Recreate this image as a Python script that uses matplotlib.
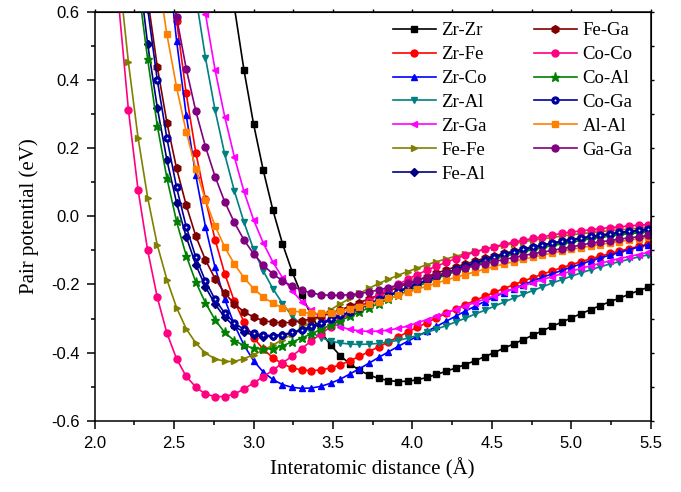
import numpy as np
import matplotlib
matplotlib.use("Agg")
import matplotlib.pyplot as plt
from matplotlib.ticker import MultipleLocator, FormatStrFormatter

plt.rcParams['axes.unicode_minus'] = False
plt.rcParams['font.family'] = 'Liberation Sans'

# distance grid (A) of the tabulated potentials, visible part only
dist = np.linspace(1.0, 7.0, 100)[17:75]

# pair potentials (eV), each list starts at dist[first]
zr_zr = [0.83, 0.615, 0.430, 0.271, 0.136, 0.019, -0.080, -0.162, -0.232, -0.291,
         -0.339, -0.378, -0.409, -0.433, -0.452, -0.466, -0.476, -0.482, -0.485, -0.484,
         -0.480, -0.473, -0.464, -0.455, -0.445, -0.435, -0.424, -0.412, -0.400, -0.387,
         -0.375, -0.362, -0.349, -0.336, -0.323, -0.311, -0.298, -0.286, -0.274, -0.262,
         -0.251, -0.240, -0.229, -0.218, -0.208]
zr_fe = [0.835, 0.575, 0.361, 0.187, 0.050, -0.068, -0.168, -0.249, -0.310, -0.356,
         -0.390, -0.415, -0.433, -0.445, -0.451, -0.453, -0.451, -0.445, -0.436, -0.424,
         -0.411, -0.397, -0.383, -0.369, -0.354, -0.340, -0.326, -0.312, -0.298, -0.285,
         -0.272, -0.259, -0.247, -0.235, -0.223, -0.212, -0.201, -0.190, -0.180, -0.170,
         -0.160, -0.151, -0.142, -0.133, -0.125, -0.117, -0.109, -0.102, -0.095, -0.088, -0.082]
zr_co = [0.780, 0.516, 0.298, 0.120, -0.030, -0.150, -0.243, -0.318, -0.378, -0.424,
         -0.457, -0.479, -0.494, -0.502, -0.505, -0.504, -0.499, -0.490, -0.478, -0.463,
         -0.447, -0.431, -0.414, -0.398, -0.382, -0.367, -0.352, -0.338, -0.323, -0.308,
         -0.293, -0.278, -0.264, -0.250, -0.237, -0.224, -0.212, -0.201, -0.190, -0.179,
         -0.169, -0.159, -0.149, -0.140, -0.131, -0.122, -0.114, -0.106, -0.098, -0.090, -0.083]
zr_al = [0.85, 0.646, 0.466, 0.312, 0.183, 0.075, -0.017, -0.097, -0.160, -0.212,
         -0.256, -0.292, -0.320, -0.341, -0.356, -0.366, -0.372, -0.375, -0.376, -0.375,
         -0.373, -0.369, -0.364, -0.358, -0.350, -0.341, -0.331, -0.321, -0.310, -0.299,
         -0.287, -0.276, -0.264, -0.252, -0.240, -0.229, -0.218, -0.207, -0.196, -0.186,
         -0.176, -0.166, -0.157, -0.148, -0.140, -0.133, -0.126, -0.119, -0.113]
zr_ga = [0.79, 0.595, 0.430, 0.293, 0.175, 0.073, -0.010, -0.078, -0.134, -0.180,
         -0.218, -0.250, -0.276, -0.297, -0.313, -0.324, -0.332, -0.336, -0.338, -0.337,
         -0.334, -0.329, -0.322, -0.313, -0.303, -0.293, -0.283, -0.273, -0.263, -0.253,
         -0.243, -0.233, -0.223, -0.213, -0.204, -0.195, -0.186, -0.177, -0.169, -0.161,
         -0.153, -0.145, -0.138, -0.131, -0.124, -0.118, -0.112, -0.106]
fe_fe = [1.05, 0.72, 0.452, 0.231, 0.055, -0.084, -0.186, -0.268, -0.330, -0.372,
         -0.402, -0.418, -0.426, -0.426, -0.418, -0.406, -0.393, -0.378, -0.362, -0.345,
         -0.327, -0.310, -0.292, -0.274, -0.257, -0.241, -0.226, -0.211, -0.197, -0.185,
         -0.173, -0.162, -0.152, -0.142, -0.133, -0.125, -0.117, -0.110, -0.103, -0.097,
         -0.091, -0.085, -0.080, -0.075, -0.070, -0.066, -0.062, -0.058, -0.054, -0.051,
         -0.048, -0.045, -0.042, -0.040, -0.037, -0.035, -0.033]
fe_al = [0.74, 0.505, 0.319, 0.165, 0.040, -0.060, -0.142, -0.207, -0.258, -0.296,
         -0.323, -0.340, -0.349, -0.353, -0.352, -0.348, -0.343, -0.335, -0.326, -0.317,
         -0.305, -0.294, -0.283, -0.271, -0.259, -0.247, -0.234, -0.223, -0.211, -0.200,
         -0.190, -0.179, -0.168, -0.158, -0.148, -0.139, -0.130, -0.122, -0.114, -0.107,
         -0.100, -0.093, -0.087, -0.081, -0.076, -0.071, -0.066, -0.062, -0.058, -0.054,
         -0.050, -0.047, -0.044, -0.041]
fe_ga = [0.64, 0.439, 0.275, 0.141, 0.033, -0.058, -0.128, -0.183, -0.225, -0.257,
         -0.280, -0.296, -0.306, -0.311, -0.313, -0.311, -0.307, -0.301, -0.293, -0.284,
         -0.275, -0.264, -0.253, -0.242, -0.231, -0.220, -0.208, -0.198, -0.187, -0.177,
         -0.167, -0.157, -0.148, -0.140, -0.131, -0.123, -0.116, -0.109, -0.102, -0.095,
         -0.089, -0.084, -0.078, -0.073, -0.068, -0.064, -0.060, -0.056, -0.052, -0.049,
         -0.045, -0.042, -0.040]
co_co = [1.02, 0.62, 0.312, 0.078, -0.100, -0.238, -0.343, -0.418, -0.470, -0.501,
         -0.522, -0.529, -0.529, -0.522, -0.507, -0.489, -0.471, -0.452, -0.431, -0.410,
         -0.388, -0.366, -0.345, -0.324, -0.304, -0.285, -0.266, -0.248, -0.231, -0.215,
         -0.200, -0.185, -0.171, -0.158, -0.146, -0.135, -0.124, -0.114, -0.105, -0.097,
         -0.089, -0.082, -0.076, -0.070, -0.065, -0.060, -0.055, -0.050, -0.046, -0.043,
         -0.039, -0.036, -0.033, -0.031, -0.028, -0.026, -0.024]
co_al = [0.68, 0.461, 0.266, 0.112, -0.015, -0.115, -0.193, -0.254, -0.304, -0.341,
         -0.365, -0.379, -0.387, -0.390, -0.388, -0.380, -0.369, -0.357, -0.345, -0.332,
         -0.319, -0.306, -0.294, -0.281, -0.268, -0.256, -0.243, -0.231, -0.219, -0.206,
         -0.194, -0.183, -0.172, -0.162, -0.152, -0.143, -0.134, -0.126, -0.118, -0.111,
         -0.104, -0.098, -0.092, -0.086, -0.081, -0.076, -0.071, -0.066, -0.062, -0.058,
         -0.054, -0.051, -0.048, -0.045]
co_ga = [0.61, 0.400, 0.229, 0.085, -0.030, -0.120, -0.190, -0.244, -0.284, -0.313,
         -0.332, -0.343, -0.349, -0.350, -0.347, -0.341, -0.333, -0.323, -0.313, -0.302,
         -0.291, -0.280, -0.268, -0.256, -0.244, -0.231, -0.220, -0.208, -0.197, -0.187,
         -0.176, -0.165, -0.155, -0.145, -0.136, -0.127, -0.119, -0.111, -0.104, -0.097,
         -0.090, -0.084, -0.078, -0.073, -0.068, -0.063, -0.059, -0.055, -0.051, -0.047,
         -0.044, -0.041, -0.038]
al_al = [0.72, 0.534, 0.379, 0.249, 0.139, 0.048, -0.028, -0.090, -0.140, -0.180,
         -0.212, -0.237, -0.255, -0.268, -0.277, -0.282, -0.285, -0.285, -0.283, -0.279,
         -0.273, -0.266, -0.258, -0.250, -0.241, -0.232, -0.223, -0.214, -0.205, -0.196,
         -0.187, -0.179, -0.171, -0.163, -0.155, -0.147, -0.140, -0.133, -0.126, -0.120,
         -0.114, -0.108, -0.102, -0.097, -0.092, -0.087, -0.083, -0.078, -0.074, -0.070,
         -0.066, -0.062]
ga_ga = [0.77, 0.585, 0.434, 0.309, 0.205, 0.117, 0.043, -0.018, -0.069, -0.110,
         -0.143, -0.169, -0.189, -0.205, -0.217, -0.225, -0.230, -0.232, -0.232, -0.230,
         -0.227, -0.222, -0.216, -0.209, -0.202, -0.195, -0.188, -0.180, -0.173, -0.166,
         -0.159, -0.152, -0.145, -0.139, -0.133, -0.127, -0.121, -0.115, -0.110, -0.105,
         -0.100, -0.095, -0.090, -0.084, -0.079, -0.075, -0.071, -0.067, -0.063, -0.060, -0.056]

labels = ["Zr-Zr", "Zr-Fe", "Zr-Co", "Zr-Al", "Zr-Ga", "Fe-Fe", "Fe-Al",
          "Fe-Ga", "Co-Co", "Co-Al", "Co-Ga", "Al-Al", "Ga-Ga"]
values = [zr_zr, zr_fe, zr_co, zr_al, zr_ga, fe_fe, fe_al,
          fe_ga, co_co, co_al, co_ga, al_al, ga_ga]
first = [13, 7, 7, 9, 10, 1, 4, 5, 1, 4, 5, 6, 7]

colors = ["#000000", "#ff0000", "#0000ff", "#008080", "#ff00ff", "#808000", "#000080",
          "#800000", "#ff0080", "#008000", "#0000a0", "#ff8000", "#800080"]
markers = ["s", "o", "^", "v", "<", ">", "D", "h", "o", "*", "o", "s", "o"]
msizes = [4.5, 5, 5, 5, 5, 5, 4, 5.5, 5, 6.5, 5, 4.5, 5]

fig = plt.figure(figsize=(6.81, 4.92), dpi=100)
ax = fig.add_axes([0.1391, 0.1449, 0.8164, 0.8307])

handles = []
for lab, v, i0, c, m, s in zip(labels, values, first, colors, markers, msizes):
    x = dist[i0:i0 + len(v)]
    ln, = ax.plot(x, v, color=c, lw=1.2, marker=m, ms=s, mec=c, mfc=c, label=lab)
    if lab == "Co-Ga":
        # navy circle with a small white centre
        dots, = ax.plot(x, v, ls="none", marker="o", ms=1.3, mew=0, color="white")
        handles.append((ln, dots))
    else:
        handles.append(ln)

ax.set_xlim(2.0, 5.5)
ax.set_ylim(-0.6, 0.6)
ax.xaxis.set_major_locator(MultipleLocator(0.5))
ax.xaxis.set_minor_locator(MultipleLocator(0.25))
ax.yaxis.set_major_locator(MultipleLocator(0.2))
ax.yaxis.set_minor_locator(MultipleLocator(0.1))
ax.xaxis.set_major_formatter(FormatStrFormatter('%.1f'))
ax.yaxis.set_major_formatter(FormatStrFormatter('%.1f'))
ax.tick_params(which='both', direction='out', width=1.1, labelsize=12)
ax.tick_params(which='major', length=6, pad=5)
ax.tick_params(which='minor', length=3)
for sp in ax.spines.values():
    sp.set_linewidth(1.1)

top = ax.secondary_xaxis('top')
top.set_xticks(np.arange(2.0, 5.51, 0.25))
top.tick_params(direction='out', length=2.5, width=1.0, labeltop=False)
right = ax.secondary_yaxis('right')
right.set_yticks(np.arange(-0.6, 0.61, 0.1))
right.tick_params(direction='out', length=2.5, width=1.0, labelright=False)

ax.set_xlabel("Interatomic distance (Å)", family="Liberation Serif", fontsize=15)
ax.set_ylabel("Pair potential (eV)", family="Liberation Serif", fontsize=15)
ax.xaxis.set_label_coords(0.5, -0.091)
ax.yaxis.set_label_coords(-0.10, 0.5)

ax.legend(handles, labels, loc='upper left', bbox_to_anchor=(0.519, 0.998), ncol=2,
          frameon=False, borderpad=0, handlelength=2.3, handletextpad=0.3,
          labelspacing=0.36, columnspacing=2.5, numpoints=1,
          prop={'family': 'Liberation Serif', 'size': 13.5})

fig.savefig("out.png", dpi=100)
